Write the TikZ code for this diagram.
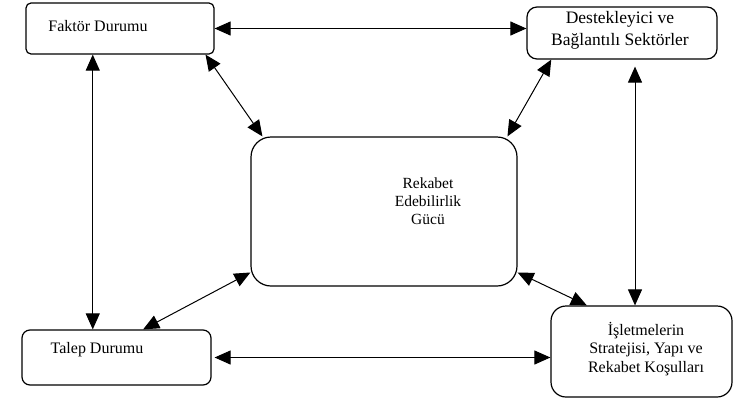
\documentclass[tikz,border=0pt]{standalone}
\usepackage{fontspec}
\setmainfont{Liberation Serif}
\usetikzlibrary{arrows.meta,calc}
\begin{document}
\begin{tikzpicture}[x=1pt,y=-1pt,
  boxs/.style={draw,line width=1.2pt,inner sep=0pt,minimum width=#1},
  lbl/.style={inner sep=0pt,align=center,font=\fontsize{16}{18.5}\selectfont},
  conn/.style={line width=1pt,{Triangle[length=16pt,width=14pt]}-{Triangle[length=16pt,width=14pt]}}]
\useasboundingbox (0,0) rectangle (733,399);
% boxes
\node[boxs=188pt,minimum height=51pt,rounded corners=5pt] (fak) at (120,28.5) {};
\node[boxs=190pt,minimum height=52pt,rounded corners=10pt] (des) at (622,33) {};
\node[boxs=266pt,minimum height=149pt,rounded corners=20pt] (cen) at (384,211.5) {};
\node[boxs=189pt,minimum height=55pt,rounded corners=8pt] (tal) at (116.5,357.5) {};
\node[boxs=181pt,minimum height=91pt,rounded corners=15pt] (isl) at (641.5,351.5) {};
% texts
\node[lbl] (tfak) at (98,26) {Faktör Durumu};
\node[lbl,font=\fontsize{17.5}{22}\selectfont] (tdes) at (620,30) {Destekleyici ve\\ Bağlantılı Sektörler};
\node[lbl,font=\fontsize{15.5}{18}\selectfont] (tcen) at (428,201) {Rekabet\\Edebilirlik\\Gücü};
\node[lbl] (ttal) at (97,350) {Talep Durumu};
\node[lbl,font=\fontsize{16}{18.5}\selectfont] (tisl) at (646,349) {İşletmelerin\\Stratejisi, Yapı ve\\Rekabet Koşulları};
% connectors
\draw[conn] (fak.east) -- (fak.east -| des.west);
\draw[conn] ($(fak.south west)!0.952!(fak.south east)$) -- ($(cen.north west)!0.045!(cen.north east)$);
\draw[conn] ($(des.south west)!0.13!(des.south east)$) -- ($(cen.north west)!0.962!(cen.north east)$);
\coordinate (p1) at ($(fak.south west)!0.356!(fak.south east)$);
\draw[conn] (p1) -- (p1 |- tal.north);
\coordinate (p2) at ($(des.south west)!0.568!(des.south east)$);
\draw[conn] ([yshift=-7pt]p2) -- (p2 |- isl.north);
\draw[conn] ($(cen.south west)!0.094!(cen.north west)$) -- ($(tal.north west)!0.64!(tal.north east)$);
\draw[conn] ($(cen.south east)!0.094!(cen.north east)$) -- ($(isl.north west)!0.2!(isl.north east)$);
\draw[conn] ([xshift=3pt]tal.east) -- (tal.east -| isl.west);
\end{tikzpicture}
\end{document}
